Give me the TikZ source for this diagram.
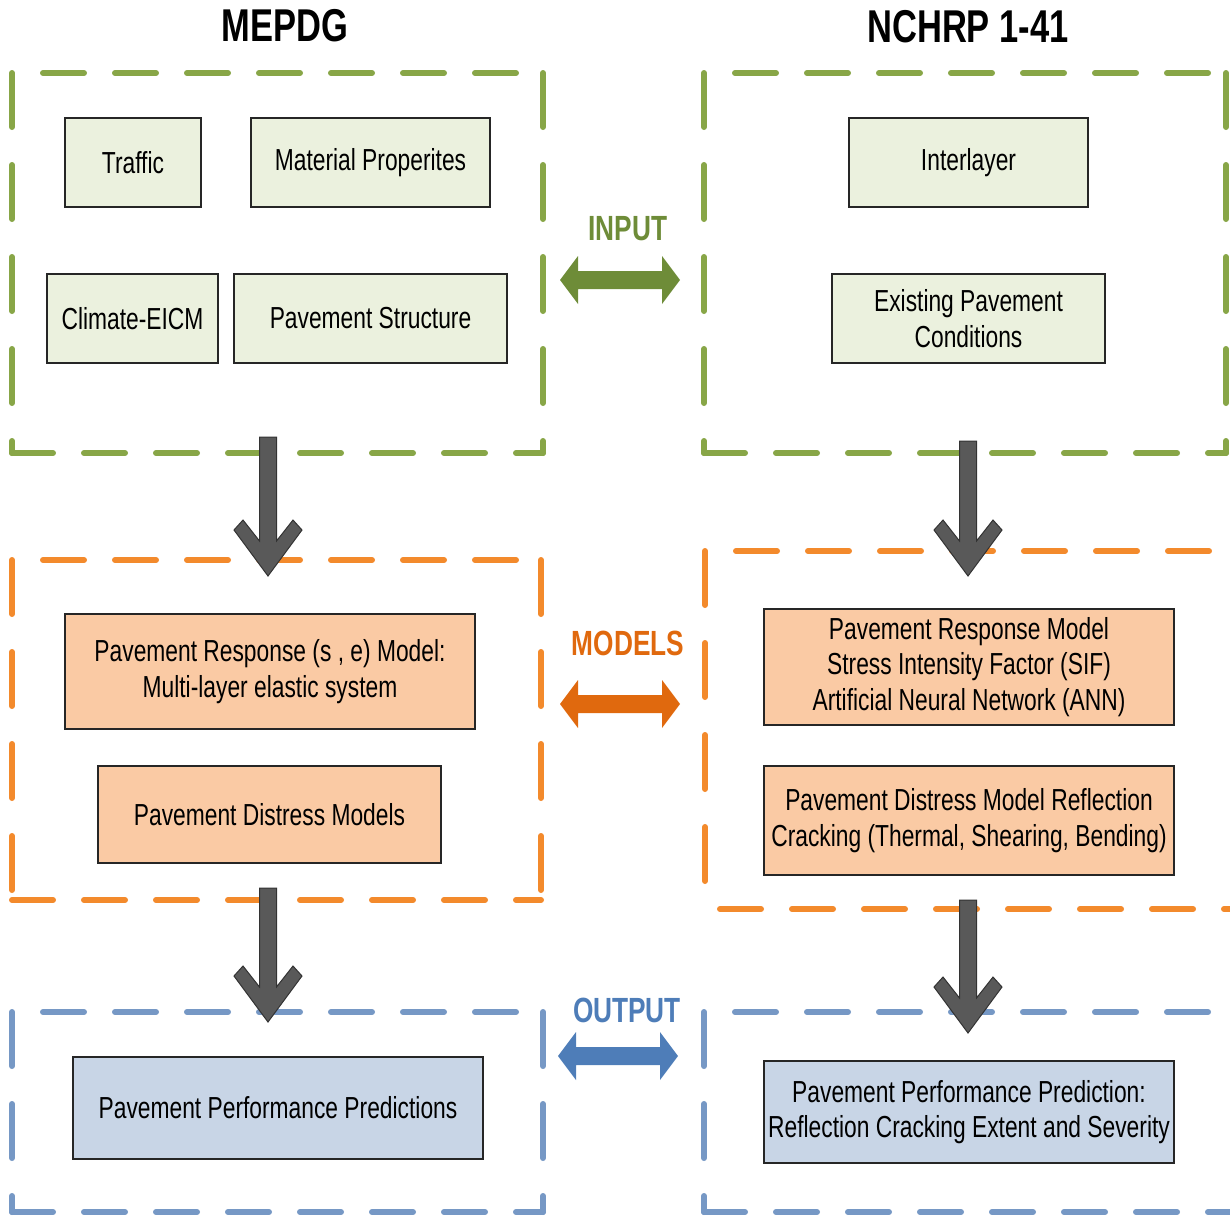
\documentclass[tikz,border=0pt]{standalone}
\usepackage{fontspec}
\setmainfont{Liberation Sans}[FakeStretch=0.75]
\usetikzlibrary{positioning}

\definecolor{framegreen}{HTML}{88A647}
\definecolor{frameorange}{HTML}{F38A2C}
\definecolor{frameblue}{HTML}{7698C5}
\definecolor{fillgreen}{HTML}{EBF1DE}
\definecolor{fillorange}{HTML}{FACAA4}
\definecolor{fillblue}{HTML}{C8D5E6}
\definecolor{arrgreen}{HTML}{6E8C38}
\definecolor{arrorange}{HTML}{E0690E}
\definecolor{arrblue}{HTML}{4E7DB8}
\definecolor{arrgray}{HTML}{595959}

\begin{document}
\begin{tikzpicture}[x=0.5pt,y=-0.5pt,
  box/.style={draw=black!85,line width=0.6pt,align=center,inner sep=0pt,
    font=\fontsize{15.2}{17.75}\selectfont},
  inbox/.style={box,fill=fillgreen,minimum height=44.5pt},
  modbox/.style={box,fill=fillorange},
  outbox/.style={box,fill=fillblue,minimum width=205pt,minimum height=51pt},
  title/.style={font=\bfseries\fontsize{23}{27}\selectfont},
  tag/.style={font=\bfseries\fontsize{17.5}{21}\selectfont},
  hline/.style={line width=3pt,line cap=round,dash pattern=on 20.5pt off 15.5pt},
  vline/.style={line width=3pt,line cap=round,dash pattern=on 27pt off 19pt},
  downarrow/.style={fill=arrgray,draw=black!80,line width=0.5pt}]

\useasboundingbox (0,0) rectangle (1230,1216);
\clip (0,0) rectangle (1230,1216);

% ---- dashed frame: \dashframe{x1}{y1}{x2}{y2}{colour}
\newcommand{\dashframe}[5]{
  \draw[hline,#5,dash phase=20.5pt] (#1,#2) -- (#3,#2);
  \draw[hline,#5] (#1,#4) -- (#3,#4);
  \draw[vline,#5] (#1,#2) -- (#1,#4);
  \draw[vline,#5] (#3,#2) -- (#3,#4);
}
% ---- block arrow down: \blockdown{coordinate}{length}
\newcommand{\blockdown}[2]{
  \filldraw[downarrow] (#1) ++(-8.5,0) -- ++(0,#2-35) -- ++(-16.5,-21)
    -- ++(-9,10) -- ++(34,46) -- ++(34,-46) -- ++(-9,-10) -- ++(-16.5,21)
    -- ++(0,-#2+35) -- cycle;
}
% ---- block arrow both ways: \blockboth{coordinate}{colour}
\newcommand{\blockboth}[2]{
  \fill[#2] (#1) -- ++(18,-24) -- ++(0,15) -- ++(84,0) -- ++(0,-15)
    -- ++(18,24) -- ++(-18,24) -- ++(0,-15) -- ++(-84,0) -- ++(0,15) -- cycle;
}

% Frames
\dashframe{12}{73}{543}{453}{framegreen}
\dashframe{704}{73}{1226}{453}{framegreen}
\dashframe{12}{560}{541}{900}{frameorange}
\draw[hline,frameorange,dash phase=20.5pt] (705,551) -- (1250,551);
\draw[vline,frameorange] (705,551) -- (705,895);
\draw[hline,frameorange] (720,909) -- (1250,909);
\dashframe{12}{1012}{543}{1212}{frameblue}
\dashframe{704}{1012}{1250}{1212}{frameblue}

% Titles
\node[title] (mepdg) at (285,26) {MEPDG};
\node[title] (nchrp) at (968,27) {NCHRP 1-41};

% Input boxes
\node[inbox,minimum width=68pt] (traffic) at (133,162.5) {Traffic};
\node[inbox,minimum width=119.5pt] (material) at (370.5,162.5) {Material Properites};
\node[inbox,minimum width=85.5pt] (climate) at (132.5,318.5) {Climate-EICM};
\node[inbox,minimum width=136.5pt] (structure) at (370.5,318.5) {Pavement Structure};
\node[inbox,minimum width=119.5pt] (interlayer) at (968.5,162.5) {Interlayer};
\node[inbox,minimum width=136.5pt] (existing) at (968.5,318.5) {Existing Pavement\\Conditions};

% Model boxes
\node[modbox,minimum width=205pt,minimum height=57.5pt] (respL) at (270,671.5)
  {Pavement Response (s , e) Model:\\Multi-layer elastic system};
\node[modbox,minimum width=171.5pt,minimum height=48.5pt] (distL) at (269.5,814.5)
  {Pavement Distress Models};
\node[modbox,minimum width=205pt,minimum height=58pt] (respR) at (969,667)
  {Pavement Response Model\\Stress Intensity Factor (SIF)\\Artificial Neural Network (ANN)};
\node[modbox,minimum width=205pt,minimum height=54.5pt] (distR) at (969,820.5)
  {Pavement Distress Model Reflection\\Cracking (Thermal, Shearing, Bending)};

% Output boxes
\node[outbox] (perfL) at (278,1108) {Pavement Performance Predictions};
\node[outbox] (perfR) at (969,1112)
  {Pavement Performance Prediction:\\Reflection Cracking Extent and Severity};

% Side tags and two-way arrows
\node[tag,text=arrgreen] (input) at (628,229) {INPUT};
\node[tag,text=arrorange] (models) at (628,643) {MODELS};
\node[tag,text=arrblue] (output) at (627,1010) {OUTPUT};
\coordinate (inL) at (560,280);
\coordinate (modL) at (560,704);
\coordinate (outL) at (558,1056);
\blockboth{inL}{arrgreen}
\blockboth{modL}{arrorange}
\blockboth{outL}{arrblue}

% Down arrows between stages
\coordinate (gL) at (268,437);
\coordinate (gR) at (968,441);
\coordinate (oL) at (268,888);
\coordinate (oR) at (968,900);
\blockdown{gL}{139}
\blockdown{gR}{135}
\blockdown{oL}{134}
\blockdown{oR}{133}

\end{tikzpicture}
\end{document}
